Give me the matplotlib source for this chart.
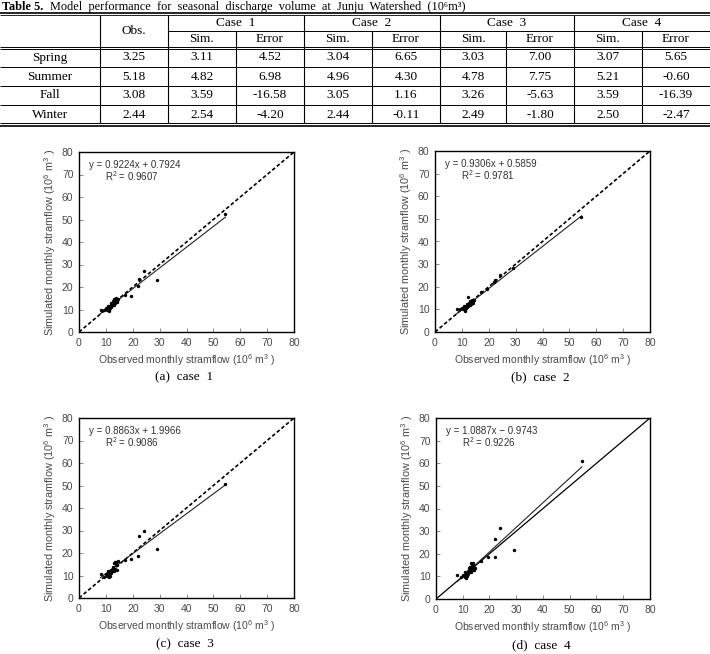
import matplotlib
matplotlib.use("Agg")
import matplotlib.pyplot as plt
import numpy as np

plt.rcParams['mathtext.default'] = 'regular'

# ---------------- table data ----------------
title_bold = "Table 5."
title_rest = "Model  performance  for  seasonal  discharge  volume  at  Junju  Watershed  (10\u2076m\u00b3)"
cases = ["Case  1", "Case  2", "Case  3", "Case  4"]
sub_headers = ["Sim.", "Error"]
seasons = ["Spring", "Summer", "Fall", "Winter"]
obs_season = ["3.25", "5.18", "3.08", "2.44"]
sim_vals = [["3.11", "3.04", "3.03", "3.07"],
            ["4.82", "4.96", "4.78", "5.21"],
            ["3.59", "3.05", "3.26", "3.59"],
            ["2.54", "2.44", "2.49", "2.50"]]
err_vals = [["4.52", "6.65", "7.00", "5.65"],
            ["6.98", "4.30", "7.75", "-0.60"],
            ["-16.58", "1.16", "-5.63", "-16.39"],
            ["-4.20", "-0.11", "-1.80", "-2.47"]]

# ---------------- scatter data ----------------
observed = [54.5, 29.0, 24.0, 22.2, 22.0, 19.5, 17.0, 14.0, 13.8, 13.5, 13.2, 13.0,
            12.8, 12.5, 12.3, 12.0, 11.8, 11.5, 11.3, 11.0, 10.8, 10.5, 10.0, 9.2,
            8.0, 14.5, 13.6, 12.9, 12.2, 11.6, 11.2, 13.3, 14.2, 12.6, 11.9]
sim_case1 = [52.5, 23.0, 27.0, 23.5, 20.5, 16.0, 16.5, 14.0, 15.0, 13.0, 14.5, 12.0,
             13.5, 14.0, 12.5, 11.0, 12.0, 10.5, 11.0, 10.0, 11.5, 10.0, 10.5, 10.0,
             10.0, 14.5, 14.0, 13.0, 12.0, 11.5, 9.5, 14.8, 13.5, 12.2, 12.8]
sim_case2 = [51.0, 28.5, 25.0, 23.0, 22.0, 19.0, 17.5, 13.5, 14.0, 12.5, 13.5, 12.0,
             13.0, 12.5, 11.5, 11.0, 12.5, 10.5, 11.0, 9.8, 11.5, 10.0, 10.5, 10.0,
             10.0, 14.0, 13.0, 12.5, 15.5, 11.0, 9.5, 13.8, 13.0, 12.0, 11.5]
sim_case3 = [50.5, 22.0, 30.0, 27.5, 18.5, 17.5, 17.0, 14.5, 16.0, 13.0, 15.5, 12.0,
             14.0, 13.5, 12.0, 11.0, 12.5, 10.0, 11.0, 10.0, 12.0, 10.0, 10.5, 9.5,
             10.5, 16.5, 15.0, 13.0, 12.5, 11.0, 9.5, 16.0, 12.5, 13.5, 11.5]
sim_case4 = [61.0, 21.5, 31.5, 26.5, 18.5, 18.5, 17.0, 14.5, 16.0, 13.0, 16.0, 12.0,
             14.0, 13.5, 12.5, 11.0, 12.5, 10.0, 11.0, 9.8, 12.0, 10.0, 10.5, 9.8,
             10.5, 13.5, 13.5, 13.0, 12.5, 11.0, 9.5, 15.5, 13.0, 14.0, 11.5]
slopes = [0.9224, 0.9306, 0.8863, 1.0887]
intercepts = [0.7924, 0.5859, 1.9966, -0.9743]
r2 = ["0.9607", "0.9781", "0.9086", "0.9226"]
eq_text = ["y = 0.9224x + 0.7924", "y = 0.9306x + 0.5859",
           "y = 0.8863x + 1.9966", "y = 1.0887x \u2212 0.9743"]
captions = ["(a)  case  1", "(b)  case  2", "(c)  case  3", "(d)  case  4"]
one_to_one_dashed = [True, True, True, False]
ticks = [0, 10, 20, 30, 40, 50, 60, 70, 80]

W, H = 710, 654
fig = plt.figure(figsize=(W / 100, H / 100), dpi=100)

# ---------------- table (pixel overlay) ----------------
ov = fig.add_axes([0, 0, 1, 1])
ov.set_xlim(0, W)
ov.set_ylim(H, 0)
ov.axis('off')
serif = 'Liberation Serif'
serif_list = ['Liberation Serif', 'DejaVu Serif']
fs = 9.5
col_edges = [0, 100, 168, 236, 304, 372, 440, 506, 574, 642, 710]
y_top, y_mid, y_head, y_bot = 14, 31, 48, 124
row_edges = [48, 67, 86, 105, 124]

def hline(y, x0=0, x1=W, lw=0.8):
    ov.plot([x0, x1], [y, y], color='black', lw=lw, solid_capstyle='butt')

def vline(x, y0, y1, lw=0.8):
    ov.plot([x, x], [y0, y1], color='black', lw=lw, solid_capstyle='butt')

hline(y_top - 1.5, lw=1.2)
hline(y_top + 1.0, lw=0.6)
hline(y_mid, x0=col_edges[2], lw=0.7)
hline(y_head - 1.3, lw=0.7)
hline(y_head + 1.3, lw=0.7)
for y in row_edges[1:-1]:
    hline(y, lw=0.7)
hline(y_bot - 1.0, lw=0.7)
hline(y_bot + 1.5, lw=1.2)
for i in [1, 2, 4, 6, 8]:
    vline(col_edges[i], y_top + 1, y_bot - 1)
for i in [3, 5, 7, 9]:
    vline(col_edges[i], y_mid, y_bot - 1)

ov.text(2, 10, title_bold, fontfamily=serif_list, fontweight='bold', fontsize=8.8,
        ha='left', va='baseline')
ov.text(50, 10, title_rest, fontfamily=serif_list, fontsize=8.8, ha='left', va='baseline')
ov.text((col_edges[1] + col_edges[2]) / 2, (y_top + y_head) / 2, "Obs.",
        fontfamily=serif, fontsize=fs, ha='center', va='center')
for k, c in enumerate(cases):
    x0, x1 = col_edges[2 + 2 * k], col_edges[4 + 2 * k]
    ov.text((x0 + x1) / 2, (y_top + y_mid) / 2 + 1, c, fontfamily=serif, fontsize=fs,
            ha='center', va='center')
    for j, s in enumerate(sub_headers):
        xa, xb = col_edges[2 + 2 * k + j], col_edges[3 + 2 * k + j]
        ov.text((xa + xb) / 2, (y_mid + y_head) / 2, s, fontfamily=serif, fontsize=fs,
                ha='center', va='center')
for r, season in enumerate(seasons):
    yc = (row_edges[r] + row_edges[r + 1]) / 2
    ov.text(50, yc, season, fontfamily=serif, fontsize=fs, ha='center', va='center')
    ov.text((col_edges[1] + col_edges[2]) / 2, yc, obs_season[r], fontfamily=serif,
            fontsize=fs, ha='center', va='center')
    for k in range(4):
        xs = (col_edges[2 + 2 * k] + col_edges[3 + 2 * k]) / 2
        xe = (col_edges[3 + 2 * k] + col_edges[4 + 2 * k]) / 2
        ov.text(xs, yc, sim_vals[r][k], fontfamily=serif, fontsize=fs, ha='center', va='center')
        ov.text(xe, yc, err_vals[r][k], fontfamily=serif, fontsize=fs, ha='center', va='center')

# ---------------- scatter panels ----------------
panels = [(79, 152, 215, 180), (435, 151, 215, 181), (79, 418, 215, 180), (436, 418, 214, 181)]
sims = [sim_case1, sim_case2, sim_case3, sim_case4]
sans = 'Liberation Sans'
gray = '#4a4a4a'
obs_arr = np.array(observed)
for k, (l, t, w, h) in enumerate(panels):
    ax = fig.add_axes([l / W, (H - t - h) / H, w / W, h / H])
    ax.set_xlim(0, 80)
    ax.set_ylim(0, 80)
    ls = (0, (2.2, 1.4)) if one_to_one_dashed[k] else '-'
    ax.plot([0, 80], [0, 80], color='black', lw=1.2 if one_to_one_dashed[k] else 0.9, ls=ls)
    xr = np.array([obs_arr.min(), obs_arr.max()])
    ax.plot(xr, slopes[k] * xr + intercepts[k], color='#222222', lw=0.8)
    ax.scatter(observed, sims[k], s=6, color='black', zorder=3, linewidths=0)
    ax.set_xticks(ticks)
    ax.set_yticks(ticks)
    ax.tick_params(direction='in', length=3, width=0.6, labelsize=7.5, labelcolor=gray,
                   pad=4, color='#777777')
    for lab in ax.get_xticklabels() + ax.get_yticklabels():
        lab.set_fontfamily(sans)
    for sp in ax.spines.values():
        sp.set_linewidth(1.0)
        sp.set_color('black')
    ax.set_xlabel("Observed monthly stramflow (10$^6$ m$^3$ )", fontfamily=sans,
                  fontsize=7.5, color=gray, labelpad=3)
    ax.set_ylabel("Simulated monthly stramflow (10$^6$ m$^3$ )", fontfamily=sans,
                  fontsize=7.8, color=gray, labelpad=3)
    ax.text(0.045, 0.93, eq_text[k], transform=ax.transAxes, fontfamily=sans,
            fontsize=7.0, color='#333333', ha='left', va='center')
    ax.text(0.12, 0.865, "R$^2$ = " + r2[k], transform=ax.transAxes, fontfamily=sans,
            fontsize=7.0, color='#333333', ha='left', va='center')
    cy = t + h + 45 if k < 2 else t + h + 46
    ov.text(l + w / 2 - 2, cy, captions[k], fontfamily=serif, fontsize=fs, ha='center',
            va='center')

fig.savefig("out.png", dpi=100)
